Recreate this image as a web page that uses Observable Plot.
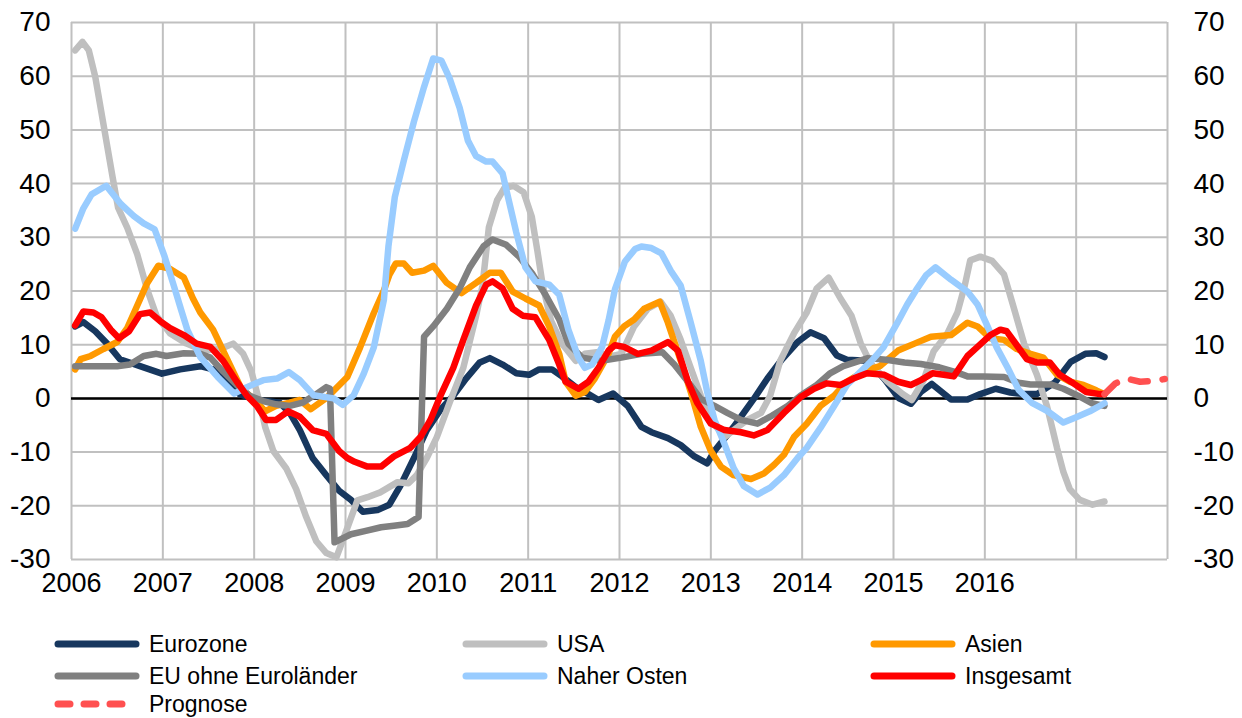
<!DOCTYPE html>
<html>
<head>
<meta charset="utf-8">
<script src="https://cdn.jsdelivr.net/npm/d3@7"></script>
<script src="https://cdn.jsdelivr.net/npm/@observablehq/plot@0.6"></script>
<style>
  html, body { margin: 0; padding: 0; background: #fff; }
  body { width: 1242px; height: 718px; overflow: hidden; font-family: "Liberation Sans", Arial, sans-serif; }
  #wrap { position: relative; width: 1242px; height: 718px; }
  #legend { position: absolute; left: 0; top: 0; width: 1242px; height: 718px; pointer-events: none; }
  .item { position: absolute; display: flex; align-items: center; font-size: 23px; line-height: 26px; color: #000; white-space: nowrap; }
  .item svg { margin-right: 9px; }
</style>
</head>
<body>
<div id="wrap"><div id="chart"></div><div id="legend"></div></div>
<script>
// ---- data (decimal year, value) ----
const eurozone = [[2006.04,13.4],[2006.13,14.2],[2006.26,12.5],[2006.39,10.2],[2006.53,7.3],[2006.75,6.0],[2006.99,4.6],[2007.19,5.4],[2007.41,6.0],[2007.55,5.4],[2007.70,3.1],[2007.84,0.8],[2007.99,-0.1],[2008.13,-0.5],[2008.28,-0.8],[2008.39,-2.7],[2008.50,-5.9],[2008.64,-11.1],[2008.79,-14.3],[2008.93,-17.2],[2009.06,-18.9],[2009.19,-21.1],[2009.35,-20.8],[2009.48,-19.8],[2009.60,-16.3],[2009.75,-11.1],[2009.89,-5.9],[2010.04,-2.1],[2010.18,0.5],[2010.32,3.7],[2010.47,6.7],[2010.58,7.5],[2010.72,6.3],[2010.87,4.7],[2011.01,4.4],[2011.12,5.4],[2011.26,5.4],[2011.37,4.1],[2011.52,2.1],[2011.66,0.8],[2011.77,-0.3],[2011.93,0.9],[2012.09,-1.4],[2012.24,-5.3],[2012.35,-6.3],[2012.53,-7.4],[2012.67,-8.7],[2012.82,-10.8],[2012.96,-12.1],[2013.04,-9.8],[2013.25,-5.3],[2013.47,-0.1],[2013.62,3.7],[2013.78,7.3],[2013.95,10.5],[2014.09,12.3],[2014.24,11.2],[2014.38,8.0],[2014.49,7.2],[2014.72,7.0],[2014.90,3.6],[2015.06,0.0],[2015.19,-1.0],[2015.30,1.2],[2015.42,2.7],[2015.63,-0.2],[2015.81,-0.2],[2015.95,0.8],[2016.12,1.8],[2016.28,1.1],[2016.43,0.8],[2016.57,0.8],[2016.77,3.0],[2016.94,6.8],[2017.10,8.3],[2017.22,8.4],[2017.31,7.7]];
const usa = [[2006.04,64.8],[2006.12,66.4],[2006.19,64.8],[2006.26,59.9],[2006.33,53.0],[2006.45,41.2],[2006.51,35.5],[2006.61,31.8],[2006.72,26.8],[2006.83,20.2],[2006.93,15.4],[2007.08,12.1],[2007.26,10.2],[2007.44,8.9],[2007.63,9.2],[2007.77,10.2],[2007.88,8.3],[2007.97,5.0],[2008.06,-0.8],[2008.12,-5.3],[2008.21,-9.8],[2008.35,-13.0],[2008.46,-16.9],[2008.57,-22.1],[2008.68,-26.6],[2008.79,-28.8],[2008.90,-29.6],[2008.98,-26.0],[2009.13,-19.0],[2009.24,-18.4],[2009.38,-17.5],[2009.57,-15.6],[2009.69,-15.8],[2009.78,-14.3],[2009.89,-11.1],[2010.00,-7.2],[2010.14,-0.8],[2010.29,5.7],[2010.43,15.4],[2010.50,21.0],[2010.57,31.9],[2010.66,36.9],[2010.74,39.2],[2010.84,39.6],[2010.95,38.4],[2011.04,33.8],[2011.10,27.6],[2011.16,21.0],[2011.25,14.5],[2011.37,10.2],[2011.52,7.0],[2011.62,8.3],[2011.75,8.6],[2011.90,7.8],[2012.02,8.3],[2012.16,13.4],[2012.31,16.7],[2012.45,18.0],[2012.56,15.4],[2012.67,10.9],[2012.78,5.7],[2012.89,0.5],[2013.00,-4.0],[2013.15,-7.2],[2013.25,-5.9],[2013.40,-4.0],[2013.55,-2.7],[2013.65,0.5],[2013.76,7.0],[2013.91,12.1],[2014.05,16.0],[2014.16,20.5],[2014.29,22.5],[2014.42,18.6],[2014.54,15.4],[2014.64,10.3],[2014.75,6.5],[2014.93,3.2],[2015.10,0.8],[2015.20,-0.3],[2015.33,3.4],[2015.44,8.8],[2015.59,12.1],[2015.70,16.0],[2015.78,21.0],[2015.84,25.7],[2015.95,26.4],[2016.08,25.6],[2016.21,23.1],[2016.32,16.7],[2016.43,10.2],[2016.57,4.4],[2016.68,-1.4],[2016.79,-9.2],[2016.86,-13.7],[2016.93,-16.9],[2017.04,-18.9],[2017.18,-19.8],[2017.31,-19.2]];
const asien = [[2006.04,5.4],[2006.10,7.3],[2006.21,7.9],[2006.35,9.2],[2006.50,10.5],[2006.61,13.1],[2006.72,17.3],[2006.83,21.5],[2006.95,24.7],[2007.08,24.1],[2007.23,22.5],[2007.33,18.6],[2007.41,16.0],[2007.55,12.8],[2007.66,8.9],[2007.77,5.0],[2007.86,1.8],[2007.99,0.0],[2008.12,-2.4],[2008.24,-1.4],[2008.39,-0.8],[2008.50,-0.3],[2008.62,-2.0],[2008.80,0.2],[2009.02,4.0],[2009.16,9.5],[2009.31,15.9],[2009.42,20.1],[2009.48,23.0],[2009.55,25.1],[2009.64,25.1],[2009.73,23.4],[2009.86,23.8],[2009.96,24.7],[2010.11,21.5],[2010.27,19.6],[2010.43,21.5],[2010.58,23.4],[2010.70,23.4],[2010.83,19.9],[2010.97,18.6],[2011.12,17.3],[2011.23,13.4],[2011.34,8.3],[2011.41,3.1],[2011.52,0.5],[2011.62,1.2],[2011.73,3.7],[2011.88,8.3],[2011.95,11.5],[2012.05,13.4],[2012.16,14.7],[2012.27,16.7],[2012.44,18.0],[2012.53,14.1],[2012.67,7.0],[2012.78,1.2],[2012.89,-5.3],[2013.00,-9.8],[2013.11,-12.7],[2013.25,-14.3],[2013.44,-15.0],[2013.58,-14.0],[2013.69,-12.4],[2013.80,-10.5],[2013.91,-7.2],[2014.05,-4.7],[2014.20,-1.4],[2014.35,0.5],[2014.49,3.1],[2014.67,5.0],[2014.85,6.0],[2015.05,8.9],[2015.23,10.2],[2015.41,11.5],[2015.63,11.8],[2015.81,14.1],[2015.92,13.4],[2016.06,11.2],[2016.21,10.9],[2016.35,9.2],[2016.50,8.3],[2016.64,7.6],[2016.79,4.4],[2016.93,3.1],[2017.08,2.5],[2017.22,1.5],[2017.31,0.8]];
const euOhne = [[2006.04,6.0],[2006.24,6.0],[2006.50,6.0],[2006.64,6.3],[2006.79,7.9],[2006.93,8.3],[2007.04,7.9],[2007.23,8.4],[2007.41,8.3],[2007.52,7.6],[2007.66,5.0],[2007.81,2.5],[2007.95,0.5],[2008.10,-0.5],[2008.24,-1.1],[2008.39,-1.4],[2008.53,-0.8],[2008.68,0.8],[2008.79,2.1],[2008.83,1.8],[2008.88,-26.8],[2009.06,-25.3],[2009.21,-24.7],[2009.39,-24.0],[2009.53,-23.7],[2009.68,-23.4],[2009.80,-22.1],[2009.86,11.5],[2009.96,13.4],[2010.11,16.7],[2010.25,20.5],[2010.36,24.4],[2010.51,28.3],[2010.61,29.6],[2010.76,28.6],[2010.90,26.4],[2011.05,23.1],[2011.19,19.3],[2011.34,14.7],[2011.44,10.2],[2011.59,7.6],[2011.80,7.0],[2012.02,7.6],[2012.24,8.3],[2012.47,8.6],[2012.60,6.3],[2012.75,3.1],[2012.89,-0.1],[2013.04,-1.4],[2013.18,-2.7],[2013.33,-4.0],[2013.51,-4.7],[2013.65,-3.4],[2013.84,-1.4],[2013.98,0.5],[2014.16,2.5],[2014.30,4.6],[2014.45,6.0],[2014.72,7.5],[2014.92,7.2],[2015.12,6.7],[2015.30,6.4],[2015.50,5.8],[2015.70,4.8],[2015.81,4.1],[2015.99,4.1],[2016.21,4.0],[2016.37,2.9],[2016.50,2.6],[2016.72,2.6],[2016.86,1.8],[2017.02,0.5],[2017.17,-0.9],[2017.31,-1.4]];
const naherOsten = [[2006.04,31.6],[2006.13,35.4],[2006.22,38.0],[2006.38,39.6],[2006.54,36.2],[2006.68,34.0],[2006.79,32.6],[2006.91,31.5],[2007.02,26.4],[2007.12,21.0],[2007.20,16.5],[2007.27,12.7],[2007.41,7.7],[2007.60,4.0],[2007.78,0.9],[2007.92,2.1],[2008.10,3.4],[2008.25,3.7],[2008.38,4.9],[2008.50,3.4],[2008.65,0.6],[2008.87,0.0],[2008.97,-1.2],[2009.09,0.6],[2009.20,4.6],[2009.31,9.5],[2009.42,18.3],[2009.47,28.3],[2009.54,37.5],[2009.64,44.4],[2009.75,51.6],[2009.86,58.0],[2009.96,63.3],[2010.05,62.9],[2010.14,59.6],[2010.25,54.1],[2010.34,48.0],[2010.43,45.1],[2010.54,44.1],[2010.61,44.1],[2010.72,41.9],[2010.79,36.7],[2010.87,30.9],[2010.97,24.4],[2011.08,21.8],[2011.23,21.2],[2011.34,19.3],[2011.44,12.8],[2011.55,7.6],[2011.62,5.7],[2011.70,6.3],[2011.81,9.6],[2011.88,14.5],[2011.95,20.3],[2012.06,25.5],[2012.17,27.8],[2012.24,28.3],[2012.35,28.0],[2012.46,27.0],[2012.56,23.8],[2012.67,21.0],[2012.78,14.1],[2012.89,7.0],[2012.96,1.2],[2013.04,-4.0],[2013.15,-8.5],[2013.25,-13.0],[2013.36,-16.3],[2013.51,-17.9],[2013.65,-16.6],[2013.80,-14.3],[2013.95,-11.1],[2014.05,-9.2],[2014.20,-5.5],[2014.35,-1.4],[2014.49,2.5],[2014.64,5.0],[2014.76,7.0],[2014.89,9.5],[2015.04,14.0],[2015.15,17.5],[2015.26,20.5],[2015.36,23.0],[2015.46,24.4],[2015.63,22.1],[2015.81,19.9],[2015.92,17.5],[2016.03,13.4],[2016.13,9.5],[2016.25,5.7],[2016.37,1.6],[2016.52,-0.9],[2016.68,-2.3],[2016.86,-4.5],[2017.00,-3.5],[2017.15,-2.4],[2017.31,-0.9]];
const insgesamt = [[2006.04,13.6],[2006.13,16.2],[2006.24,16.0],[2006.33,15.1],[2006.43,12.8],[2006.52,11.2],[2006.63,12.5],[2006.75,15.7],[2006.86,16.0],[2006.97,14.4],[2007.08,13.1],[2007.23,11.8],[2007.37,10.2],[2007.52,9.6],[2007.66,7.0],[2007.81,3.1],[2007.92,0.5],[2008.03,-1.4],[2008.13,-4.0],[2008.24,-4.0],[2008.37,-2.4],[2008.50,-3.4],[2008.64,-5.9],[2008.79,-6.6],[2008.93,-9.8],[2009.02,-11.1],[2009.10,-11.8],[2009.24,-12.7],[2009.39,-12.7],[2009.53,-10.8],[2009.71,-9.2],[2009.82,-7.2],[2009.93,-4.0],[2010.04,0.5],[2010.18,5.7],[2010.29,10.9],[2010.43,17.3],[2010.54,21.2],[2010.61,21.8],[2010.72,20.5],[2010.83,16.7],[2010.94,15.4],[2011.08,15.1],[2011.23,10.9],[2011.34,6.3],[2011.41,3.1],[2011.55,1.8],[2011.66,3.1],[2011.77,5.7],[2011.88,8.9],[2011.95,9.9],[2012.05,9.6],[2012.20,8.3],[2012.35,8.9],[2012.53,10.5],[2012.64,8.9],[2012.75,3.1],[2012.85,-0.8],[2013.00,-4.7],[2013.15,-5.9],[2013.33,-6.3],[2013.47,-6.9],[2013.62,-5.9],[2013.80,-2.7],[2013.98,0.2],[2014.13,1.8],[2014.27,2.8],[2014.42,2.5],[2014.56,3.7],[2014.71,4.7],[2014.90,4.4],[2015.05,3.1],[2015.19,2.5],[2015.30,3.4],[2015.43,4.7],[2015.55,4.4],[2015.66,4.1],[2015.81,7.9],[2015.92,9.6],[2016.06,11.8],[2016.17,12.8],[2016.24,12.5],[2016.35,9.9],[2016.46,7.3],[2016.57,6.7],[2016.71,6.7],[2016.82,4.4],[2016.97,2.8],[2017.11,1.2],[2017.26,0.8],[2017.31,0.8]];
const prognose = [[2017.31,0.8],[2017.43,2.8],[2017.55,3.7],[2017.70,3.1],[2017.85,3.3],[2017.97,3.6]];

const gridYears = [2006,2007,2008,2009,2010,2011,2012,2013,2014,2015,2016,2017,2018];
const yearLabels = [2006,2007,2008,2009,2010,2011,2012,2013,2014,2015,2016];
const yTicks = [-30,-20,-10,0,10,20,30,40,50,60,70];

const seriesNames = ["Eurozone","USA","Asien","EU ohne Euroländer","Naher Osten","Insgesamt","Prognose"];
const seriesData = [eurozone, usa, asien, euOhne, naherOsten, insgesamt, prognose];
const seriesColors = ["#17375e","#bfbfbf","#ff9900","#808080","#99ccff","#ff0000","#ff5050"];

const font = "'Liberation Sans', Arial, sans-serif";

const lineMarks = seriesData.map((arr, i) => Plot.line(arr, {
  x: d => d[0], y: d => d[1],
  stroke: seriesColors[i],
  strokeWidth: 6.5,
  strokeLinejoin: "round",
  strokeLinecap: "round",
  strokeDasharray: seriesNames[i] === "Prognose" ? "17,15" : null,
  curve: "linear"
}));

const chart = Plot.plot({
  width: 1242,
  height: 600,
  marginLeft: 71,
  marginRight: 75,
  marginTop: 22,
  marginBottom: 41,
  x: {domain: [2006, 2018], axis: null},
  y: {domain: [-30, 70], axis: null},
  style: {fontFamily: font, background: "white", color: "#000", overflow: "visible"},
  marks: [
    Plot.gridX(gridYears, {stroke: "#c0c0c0", strokeOpacity: 1, strokeWidth: 2}),
    Plot.gridY(yTicks, {stroke: "#c0c0c0", strokeOpacity: 1, strokeWidth: 2}),
    Plot.ruleY([0], {stroke: "#000", strokeWidth: 2.5}),
    ...lineMarks,
    Plot.axisX(yearLabels, {tickSize: 0, tickPadding: 13, tickFormat: d => String(d), fontSize: 27, label: null}),
    Plot.axisY(yTicks, {anchor: "left", tickSize: 0, tickPadding: 21, tickFormat: d => String(d), fontSize: 28, label: null}),
    Plot.axisY(yTicks, {anchor: "right", tickSize: 0, tickPadding: 26, tickFormat: d => String(d), fontSize: 28, label: null, textAnchor: "start"})
  ]
});
document.getElementById("chart").appendChild(chart);

// ---- legend ----
const legendPos = [
  {col: 0, row: 0}, {col: 1, row: 0}, {col: 2, row: 0},
  {col: 0, row: 1}, {col: 1, row: 1}, {col: 2, row: 1},
  {col: 0, row: 2}
];
const colX = [54, 462, 870];
const rowY = [644, 676, 704];
const legend = document.getElementById("legend");
seriesNames.forEach((name, i) => {
  const p = legendPos[i];
  const div = document.createElement("div");
  div.className = "item";
  div.style.left = colX[p.col] + "px";
  div.style.top = (rowY[p.row] - 13) + "px";
  div.style.height = "26px";
  const dash = name === "Prognose" ? ' stroke-dasharray="12,14"' : "";
  div.innerHTML = `<svg width="86" height="12"><line x1="4" y1="6" x2="82" y2="6" stroke="${seriesColors[i]}" stroke-width="7" stroke-linecap="round"${dash}/></svg><span>${name}</span>`;
  legend.appendChild(div);
});
</script>
</body>
</html>
